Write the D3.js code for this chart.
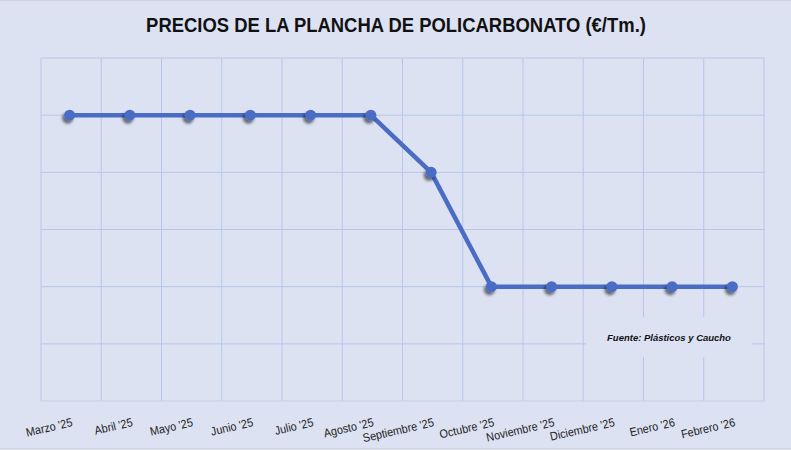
<!DOCTYPE html>
<html><head><meta charset="utf-8">
<script src="https://cdn.jsdelivr.net/npm/d3@7"></script>
<style>
html,body{margin:0;padding:0;background:#dde2f3;}
svg{display:block;}
</style></head>
<body>
<svg id="c" width="791" height="450"></svg>
<script>
const months = ["Marzo '25","Abril '25","Mayo '25","Junio '25","Julio '25","Agosto '25","Septiembre '25","Octubre '25","Noviembre '25","Diciembre '25","Enero '26","Febrero '26"];
const prices = [5,5,5,5,5,5,4,2,2,2,2,2];
const yTicks = [0,1,2,3,4,5,6];
const titleText = "PRECIOS DE LA PLANCHA DE POLICARBONATO (€/Tm.)";
const sourceText = "Fuente: Plásticos y Caucho";

const svg = d3.select("#c");
const W = 791, H = 450;
const m = {l:41, r:27, t:58, b:49};
const bg = "#dde2f3", grid = "#b7c6ea", lineCol = "#4a6cc4";
const FONT = "Liberation Sans, Arial, sans-serif";

svg.append("rect").attr("x",0).attr("y",0).attr("width",W).attr("height",H).attr("fill",bg);
svg.append("line").attr("x1",0).attr("x2",W).attr("y1",0.5).attr("y2",0.5).attr("stroke","#cfd2da");
svg.append("line").attr("x1",0).attr("x2",W).attr("y1",H-1.5).attr("y2",H-1.5).attr("stroke","#cfd2da");

const x = d3.scaleBand().domain(months).range([m.l, W-m.r]).padding(0);
const y = d3.scaleLinear().domain([0,6]).range([H-m.b, m.t]);
const px = d => x(d) + x.bandwidth()/2 - 1.5;

const defs = svg.append("defs");
const f = defs.append("filter").attr("id","sh").attr("x","-100%").attr("y","-100%").attr("width","300%").attr("height","300%");
f.append("feGaussianBlur").attr("in","SourceAlpha").attr("stdDeviation",1.6).attr("result","b");
f.append("feOffset").attr("in","b").attr("dx",-2).attr("dy",3).attr("result","o");
f.append("feComponentTransfer").attr("in","o").attr("result","o2").append("feFuncA").attr("type","linear").attr("slope",0.55);
const fm = f.append("feMerge"); fm.append("feMergeNode").attr("in","o2"); fm.append("feMergeNode").attr("in","SourceGraphic");

// grid
const g = svg.append("g");
g.selectAll(".hg").data(yTicks.slice(1)).join("line")
  .attr("x1",m.l).attr("x2",W-m.r).attr("y1",d=>y(d)).attr("y2",d=>y(d))
  .attr("stroke",grid).attr("stroke-width",1);
const bounds = months.map(d=>x(d)).concat([x(months[months.length-1])+x.bandwidth()]);
g.selectAll(".vg").data(bounds).join("line")
  .attr("x1",d=>d).attr("x2",d=>d).attr("y1",y(6)).attr("y2",y(0))
  .attr("stroke",grid).attr("stroke-width",1);
g.append("line").attr("x1",m.l).attr("x2",W-m.r).attr("y1",y(0)).attr("y2",y(0)).attr("stroke","#c9d0e6").attr("stroke-width",1.2);

// source box
const sb = svg.append("g");
sb.append("rect").attr("x",586).attr("y",317).attr("width",166).attr("height",40).attr("fill",bg);
sb.append("text").attr("x",669).attr("y",341).attr("text-anchor","middle")
  .attr("font-family",FONT).attr("font-weight","bold").attr("font-style","italic")
  .attr("font-size",9).attr("fill","#111").text(sourceText)
  .each(function(){ const w=this.getComputedTextLength(); d3.select(this).attr("font-size", 9*124/w); });

// line
const data = months.map((mth,i)=>({m:mth,v:prices[i]}));
svg.append("path").datum(data)
  .attr("d", d3.line().x(d=>px(d.m)).y(d=>y(d.v)))
  .attr("fill","none").attr("stroke",lineCol).attr("stroke-width",4.5).attr("stroke-linejoin","round");
svg.selectAll(".pt").data(data).join("circle")
  .attr("cx",d=>px(d.m)).attr("cy",d=>y(d.v)).attr("r",5.5)
  .attr("fill",lineCol).attr("filter","url(#sh)");

// x axis labels
const xa = svg.append("g").attr("transform",`translate(0,${y(0)})`)
  .call(d3.axisBottom(x).tickSize(0).tickPadding(0));
xa.select(".domain").remove();
const tl = xa.selectAll("text")
  .attr("font-family",FONT).attr("font-size",10).attr("fill","#222")
  .attr("text-anchor","end").attr("dy",0).attr("y",0)
  .attr("transform","translate(2,25) rotate(-13) scale(1,1.1)");
let refW = 0;
tl.each(function(d){ if(d==="Diciembre '25") refW=this.getComputedTextLength(); });
if(refW>0) tl.attr("font-size", 10*66/refW);

// title (stretched vertically to mimic the taller original face)
const tt = svg.append("text").attr("x",0).attr("y",0).attr("text-anchor","middle")
  .attr("font-family",FONT).attr("font-weight","bold")
  .attr("font-size",18).attr("fill","#111").text(titleText);
const tw = tt.node().getComputedTextLength();
const ts = 18*500/tw;
tt.attr("font-size", ts).attr("transform", `translate(396,32.3) scale(1,${14.5/(0.716*ts)})`);
</script>
</body></html>
